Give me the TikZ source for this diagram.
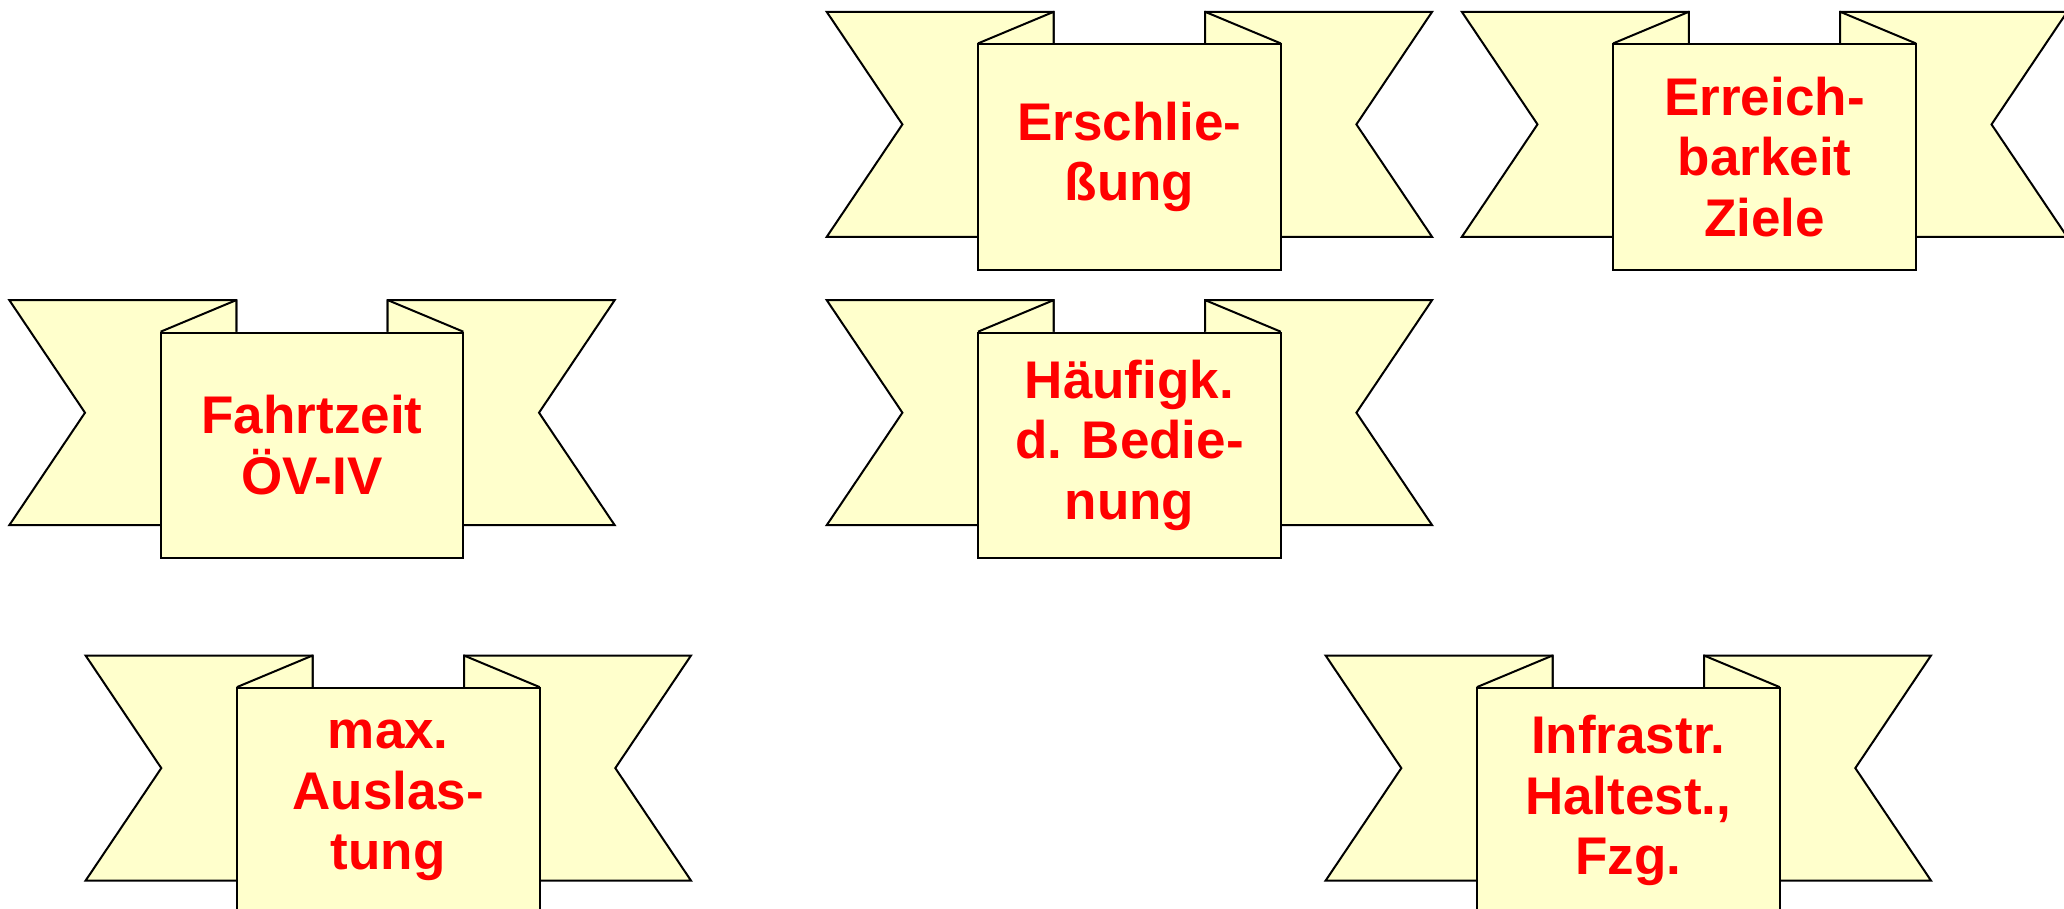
\documentclass[tikz,border=0pt]{standalone}
\usepackage{fontspec}
\setmainfont{Liberation Sans}
\definecolor{ribbonfill}{HTML}{FFFFCC}
\definecolor{labelred}{HTML}{FF0000}
\tikzset{
  ribbon/.style={fill=ribbonfill, draw=black, line width=1pt, line join=miter},
  foldline/.style={draw=black, line width=1pt, line join=round},
  frontpanel/.style={ribbon, rectangle, inner sep=0pt, anchor=north,
    minimum width=151.35pt, minimum height=112.55pt,
    text=labelred, align=center,
    font=\bfseries\fontsize{26.5}{30.3}\selectfont}
}
% #1 node name, #2 centre x, #3 top y of the front panel, #4 label
\newcommand\ribbonbanner[4]{%
  \begin{scope}[shift={(#2,#3)}]
    % swallow-tail ends
    \filldraw[ribbon] (-75.7,-31.6) -- (-302.7,-31.6) -- (-227,81) -- (-302.7,193.5) -- (-75.7,193.5) -- cycle;
    \filldraw[ribbon] (75.7,-31.6) -- (302.7,-31.6) -- (227,81) -- (302.7,193.5) -- (75.7,193.5) -- cycle;
    % folds behind the front panel
    \fill[ribbonfill] (-151.35,0) -- (-75.7,-31.6) -- (-75.7,0) -- cycle;
    \fill[ribbonfill] (151.35,0) -- (75.7,-31.6) -- (75.7,0) -- cycle;
    \draw[foldline] (-151.35,0) -- (-75.7,-31.6) -- (-75.7,0);
    \draw[foldline] (151.35,0) -- (75.7,-31.6) -- (75.7,0);
    % front panel with its label
    \node[frontpanel] (#1) at (0,0) {#4};
  \end{scope}}
\begin{document}
\begin{tikzpicture}[x=0.5pt,y=-0.5pt]
  \useasboundingbox (0,0) rectangle (2064,909);
  \clip (0,0) rectangle (2064,909);
  \ribbonbanner{erschliessung}{1129.4}{43.4}{Erschlie-\\ßung}
  \ribbonbanner{erreichbarkeit}{1764.5}{43.4}{Erreich-\\barkeit\\Ziele}
  \ribbonbanner{fahrtzeit}{312.0}{331.7}{Fahrtzeit\\ÖV-IV}
  \ribbonbanner{haeufigkeit}{1129.4}{331.7}{Häufigk.\\d. Bedie-\\nung}
  \ribbonbanner{auslastung}{388.3}{687.1}{max.\\Auslas-\\tung}
  \ribbonbanner{infrastruktur}{1628.3}{687.1}{Infrastr.\\Haltest.,\\Fzg.}
\end{tikzpicture}
\end{document}
